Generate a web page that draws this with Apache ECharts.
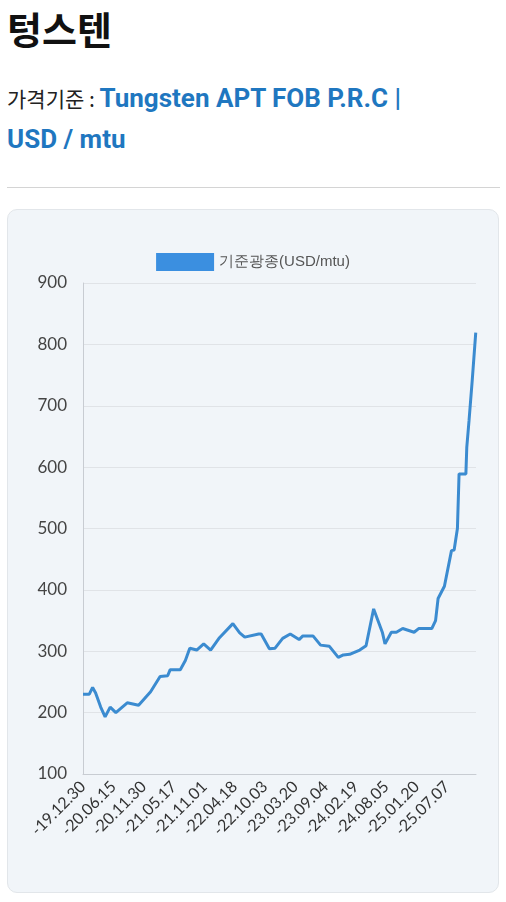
<!DOCTYPE html>
<html>
<head>
<meta charset="utf-8">
<script src="https://cdn.jsdelivr.net/npm/echarts@6/dist/echarts.min.js"></script>
<style>
  body { margin: 0; width: 506px; height: 902px; background: #fff; font-family: "Noto Sans CJK KR", "Noto Sans", sans-serif; position: relative; overflow: hidden; }
  h1 { position: absolute; left: 7px; top: 0px; margin: 0; font-size: 38px; font-weight: 700; color: #111; }
  .sub { position: absolute; left: 7px; top: 78px; width: 495px; font-size: 21px; line-height: 41px; color: #222; }
  .sub b { color: #1f77c0; font-size: 26px; font-family: Roboto, sans-serif; }
  hr { position: absolute; left: 7px; top: 187px; width: 493px; margin: 0; border: 0; border-top: 1px solid #d4d4d4; }
  .card { position: absolute; left: 7px; top: 209px; width: 490px; height: 682px; background: #f1f5f9; border: 1px solid #e2e6ea; border-radius: 10px; }
  #chart { width: 490px; height: 682px; }
</style>
</head>
<body>
<h1>텅스텐</h1>
<div class="sub">가격기준 : <b>Tungsten APT FOB P.R.C |<br>USD / mtu</b></div>
<hr>
<div class="card"><div id="chart"></div></div>
<script>
// tick labels, one every 24 weeks
const tickLabels = ['-19.12.30', '-20.06.15', '-20.11.30', '-21.05.17', '-21.11.01', '-22.04.18', '-22.10.03',
  '-23.03.20', '-23.09.04', '-24.02.19', '-24.08.05', '-25.01.20', '-25.07.07'];
// week index from 19.12.30 and price
const weeks = [0, 5, 7.6, 10, 14, 17.5, 21.5, 26, 35, 44, 53.5, 61, 67, 69, 77, 81, 84.5, 90, 95.5, 101, 108, 118.6, 124, 128,
  139, 141, 147.5, 152, 158, 164, 171, 174, 182, 188, 195, 202, 206, 211, 219, 224, 230, 237, 239, 244, 248, 253, 262, 265.6,
  276, 279, 281, 286, 291.6, 293.7, 296.3, 297.6, 303, 303.7, 305, 305.5, 308, 310.8];
const prices = [230, 230, 241, 232, 209, 193, 209, 200, 216, 212, 234, 259, 260, 270, 270, 285, 305, 302, 312, 302, 322, 345, 330, 323,
  328, 328, 304, 305, 321, 328, 319, 325, 325, 310, 308, 290, 294, 295, 302, 309, 369, 330, 312, 331, 331, 337, 331, 337,
  337, 350, 386, 406, 464, 465, 500, 589, 589, 632, 632, 676, 741, 819];

const chart = echarts.init(document.getElementById('chart'));
chart.setOption({
  animation: false,
  legend: {
    top: 38, left: 'center', itemWidth: 58, itemHeight: 18, icon: 'rect',
    textStyle: { fontSize: 15, color: '#555' }
  },
  grid: { left: 75, right: 22, top: 73, bottom: 118 },
  xAxis: {
    type: 'value', min: 0, max: 311, interval: 24,
    axisLine: { lineStyle: { color: '#c8ccd2' } },
    axisTick: { show: false },
    splitLine: { show: false },
    axisLabel: {
      rotate: 45, fontSize: 16, color: '#333', margin: 10, fontFamily: 'Lato',
      formatter: v => (v % 24 === 0 && tickLabels[v / 24]) || ''
    }
  },
  yAxis: {
    type: 'value', min: 100, max: 900, interval: 100,
    axisLine: { show: true, lineStyle: { color: '#c8ccd2' } },
    axisTick: { show: false },
    splitLine: { lineStyle: { color: '#e0e3e7' } },
    axisLabel: { fontSize: 17, color: '#444', margin: 16, fontFamily: 'Lato' }
  },
  series: [{
    name: '기준광종(USD/mtu)', type: 'line', showSymbol: false,
    data: weeks.map((w, i) => [w, prices[i]]),
    lineStyle: { color: '#3b8bd0', width: 3 },
    itemStyle: { color: '#3b8fe0' }
  }]
});
</script>
</body>
</html>
